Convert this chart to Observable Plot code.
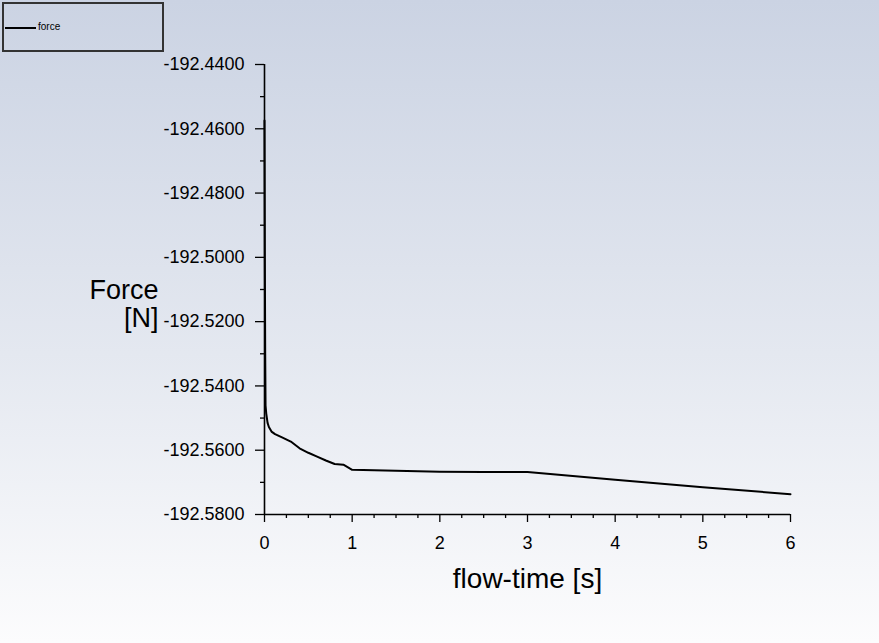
<!DOCTYPE html>
<html>
<head>
<meta charset="utf-8">
<script src="https://cdn.jsdelivr.net/npm/d3@7"></script>
<script src="https://cdn.jsdelivr.net/npm/@observablehq/plot@0.6"></script>
<style>
  html, body { margin: 0; padding: 0; }
  body { width: 879px; height: 643px; overflow: hidden; }
  #wrap { position: relative; width: 879px; height: 643px;
    background: linear-gradient(to bottom, #cbd3e3 0%, #e4e8f0 55%, #fcfcfd 100%);
    font-family: "Liberation Sans", Arial, sans-serif; }
  #legend { position: absolute; left: 2px; top: 2px; width: 158px; height: 46px;
    border: 2px solid #333; box-sizing: content-box; }
  #legend .ln { position: absolute; left: 1px; top: 23px; width: 31px; height: 2px; background: #000; }
  #legend .tx { position: absolute; left: 34px; top: 17px; font-size: 10px; color: #000; }
  #chart svg { display: block; }
</style>
</head>
<body>
<div id="wrap">
  <div id="chart"></div>
  <div id="legend"><div class="ln"></div><div class="tx">force</div></div>
</div>
<script>
// Series: flow-time [s] vs force [N]
const flowTime = [0, 0.004, 0.008, 0.012, 0.02, 0.035, 0.05, 0.08, 0.12, 0.2, 0.3, 0.4, 0.5, 0.6, 0.7, 0.8, 0.9, 1.0, 1.5, 2.0, 2.5, 3.0, 4.0, 5.0, 6.0];
const force    = [-192.4574, -192.5000, -192.5300, -192.5461, -192.5486, -192.5515, -192.5528, -192.5542, -192.5550, -192.5560, -192.5573, -192.5594, -192.5608, -192.5620, -192.5632, -192.5643, -192.5645, -192.5661, -192.5664, -192.5667, -192.5668, -192.5668, -192.5692, -192.5715, -192.5737];

const xTicks = [0, 1, 2, 3, 4, 5, 6];
const xMinorTicks = [0.25, 0.5, 0.75, 1.25, 1.5, 1.75, 2.25, 2.5, 2.75, 3.25, 3.5, 3.75, 4.25, 4.5, 4.75, 5.25, 5.5, 5.75];
const yTicks = [-192.44, -192.46, -192.48, -192.50, -192.52, -192.54, -192.56, -192.58];
const yMinorTicks = [-192.45, -192.47, -192.49, -192.51, -192.53, -192.55, -192.57];
const xTitle = "flow-time [s]";
const yTitle = ["Force", "[N]"];
const seriesName = "force";

const data = flowTime.map((t, i) => ({t, f: force[i]}));

const chart = Plot.plot({
  width: 879,
  height: 643,
  marginLeft: 264,
  marginRight: 89,
  marginTop: 64,
  marginBottom: 129,
  style: {fontFamily: "'Liberation Sans', Arial, sans-serif", fontSize: "18px", background: "transparent", color: "#000", overflow: "visible"},
  x: {domain: [0, 6]},
  y: {domain: [-192.58, -192.44]},
  marks: [
    Plot.axisX({ticks: xMinorTicks, tickSize: 4, text: null, label: null, strokeWidth: 1.3}),
    Plot.axisX({ticks: xTicks, tickSize: 8, tickPadding: 14, tickFormat: d => String(d), label: null, fontSize: 18, strokeWidth: 1.3}),
    Plot.axisY({ticks: yMinorTicks, tickSize: 4, text: null, label: null, strokeWidth: 1.3}),
    Plot.axisY({ticks: yTicks, tickSize: 9, tickPadding: 11, tickFormat: d => d.toFixed(4), label: null, fontSize: 18, strokeWidth: 1.3}),
    Plot.ruleX([0], {stroke: "#000", strokeWidth: 1.6}),
    Plot.ruleY([-192.58], {stroke: "#000", strokeWidth: 1.6}),
    Plot.line(data, {x: "t", y: "f", stroke: "#000", strokeWidth: 2}),
    Plot.text([xTitle], {frameAnchor: "bottom", lineAnchor: "bottom", dy: 73, fontSize: 28, fill: "#000"}),
    Plot.text([yTitle[0]], {frameAnchor: "left", textAnchor: "end", lineAnchor: "bottom", dx: -106, dy: 9, fontSize: 27, fill: "#000"}),
    Plot.text([yTitle[1]], {frameAnchor: "left", textAnchor: "end", lineAnchor: "bottom", dx: -106, dy: 37, fontSize: 27, fill: "#000"})
  ]
});
document.getElementById("chart").appendChild(chart);
document.querySelector("#legend .tx").textContent = seriesName;
</script>
</body>
</html>
